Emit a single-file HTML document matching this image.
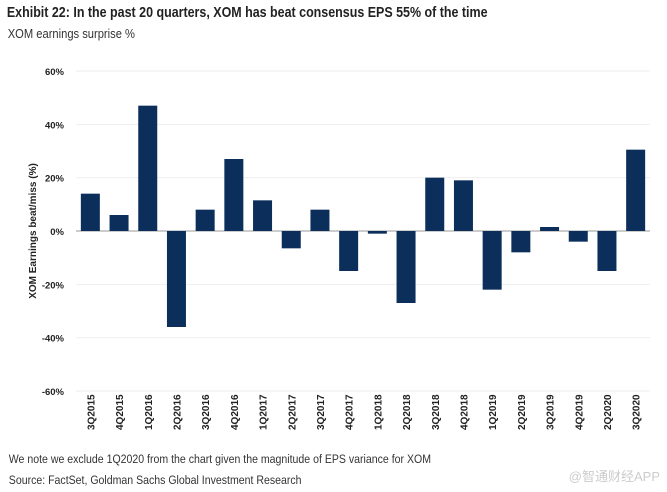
<!DOCTYPE html>
<html><head><meta charset="utf-8"><style>
body{margin:0;background:#fff;width:667px;height:492px;overflow:hidden;font-family:"Liberation Sans",sans-serif}
svg{position:absolute;left:0;top:0}
</style></head><body>
<svg width="667" height="492" id="c">
<text x="8" y="17" font-size="14.5" font-weight="bold" fill="#222" transform="scale(0.86,1)">Exhibit 22: In the past 20 quarters, XOM has beat consensus EPS 55% of the time</text>
<text x="9" y="38" font-size="13" fill="#333" transform="scale(0.86,1)">XOM earnings surprise %</text>
<text transform="translate(36,231) rotate(-90)" text-anchor="middle" font-size="10" font-weight="bold" fill="#222">XOM Earnings beat/miss (%)</text>
<g id="grid"></g><g id="bars"></g><g id="xl"></g>
<text x="10" y="463" font-size="12" fill="#333" transform="scale(0.88,1)">We note we exclude 1Q2020 from the chart given the magnitude of EPS variance for XOM</text>
<text x="10" y="484" font-size="12" fill="#333" transform="scale(0.88,1)">Source: FactSet, Goldman Sachs Global Investment Research</text>
<text x="660" y="481" text-anchor="end" font-size="13" fill="#ccc" font-family="Liberation Sans,Noto Sans CJK SC,sans-serif">@智通财经APP</text>
</svg>
<script>
const categories=["3Q2015","4Q2015","1Q2016","2Q2016","3Q2016","4Q2016","1Q2017","2Q2017","3Q2017","4Q2017","1Q2018","2Q2018","3Q2018","4Q2018","1Q2019","2Q2019","3Q2019","4Q2019","2Q2020","3Q2020"];
const values=[14,6,47,-36,8,27,11.5,-6.5,8,-15,-1,-27,20,19,-22,-8,1.5,-4,-15,30.5];
const ticks=[60,40,20,0,-20,-40,-60];
const tickLabels=["60%","40%","20%","0%","-20%","-40%","-60%"];
const ns="http://www.w3.org/2000/svg";
const x0=76,x1=650,yTop=71,yBot=391;
const band=(x1-x0)/categories.length;
const y=v=>yTop+(60-v)/120*(yBot-yTop);
const xc=i=>x0+band*(i+0.5);
function mk(t,a,p){const e=document.createElementNS(ns,t);for(const k in a)e.setAttribute(k,a[k]);p.appendChild(e);return e;}
const g=document.getElementById('grid'),b=document.getElementById('bars'),xl=document.getElementById('xl');
ticks.forEach((t,i)=>{
 const l=mk('line',{x1:x0,x2:x1,y1:y(t),y2:y(t),stroke:t===0?'#999':'#eee','stroke-width':1},g);
 
 
 const tx=mk('text',{x:64,y:y(t)+4,'text-anchor':'end','font-size':9.5,'font-weight':'bold',fill:'#222'},g);
 tx.textContent=tickLabels[i];
 
 
});
values.forEach((v,i)=>{
 const w=19;
 const r=mk('rect',{x:xc(i)-w/2,y:Math.min(y(v),y(0)),width:w,height:Math.abs(y(v)-y(0)),fill:'#0b2f5a'},b);
 
 
 const t=mk('text',{transform:`translate(${xc(i)+4},430) rotate(-90)`,'font-size':10,'font-weight':'bold',fill:'#222'},xl);
 t.textContent=categories[i];
 
 
});
</script>
</body></html>
